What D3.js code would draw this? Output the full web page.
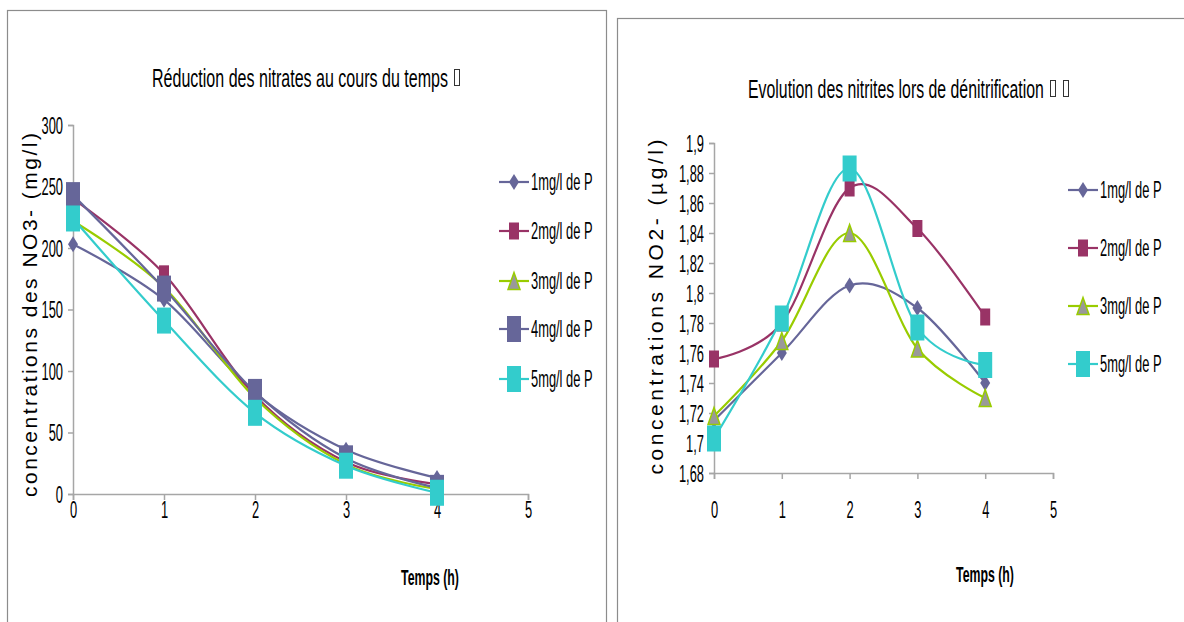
<!DOCTYPE html>
<html>
<head>
<meta charset="utf-8">
<script src="https://cdn.jsdelivr.net/npm/d3@7"></script>
<style>
  html, body { margin: 0; padding: 0; background: #fff; overflow: hidden; }
  svg { display: block; }
  text { font-family: 'Liberation Sans', Arial, sans-serif; fill: #000; }
</style>
</head>
<body>
<div id="chart"></div>
<script>
// data
const hours = [0, 1, 2, 3, 4];
const seriesNames = ["1mg/l de P", "2mg/l de P", "3mg/l de P", "4mg/l de P", "5mg/l de P"];

const no3_1 = [203, 158, 82, 36, 13];
const no3_2 = [240, 179, 80, 26, 8];
const no3_3 = [222, 168, 78, 24, 4];
const no3_4 = [243, 167, 83, 29, 5];
const no3_5 = [224, 141, 66, 23, 1];

const no2_1 = [1.715, 1.760, 1.805, 1.790, 1.740];
const no2_2 = [1.756, 1.780, 1.870, 1.843, 1.784];
const no2_3 = [1.718, 1.768, 1.840, 1.763, 1.730];
const no2_5 = [1.703, 1.783, 1.883, 1.777, 1.752];

const no3Ticks = [0, 50, 100, 150, 200, 250, 300];
const no2Ticks = [1.68, 1.70, 1.72, 1.74, 1.76, 1.78, 1.80, 1.82, 1.84, 1.86, 1.88, 1.90];
const xTicks = [0, 1, 2, 3, 4, 5];

// marker look for each series
const styles = [
  { color: "#666699", shape: "diamond", fill: "#666699", w: 10, h: 16 },
  { color: "#993366", shape: "square", fill: "#993366", w: 10, h: 17 },
  { color: "#99CC00", shape: "triangle", fill: "#999999", w: 12, h: 17 },
  { color: "#666699", shape: "square", fill: "#666699", w: 14, h: 26 },
  { color: "#33CCCC", shape: "square", fill: "#33CCCC", w: 14, h: 26 }
];

const SX = 0.56; // the picture's text is squeezed sideways
const FS = 23;

const svg = d3.select("#chart").append("svg")
  .attr("width", 1184)
  .attr("height", 622);

// frames
svg.append("rect").attr("x", 7.5).attr("y", 10.5).attr("width", 599).attr("height", 640)
  .attr("fill", "none").attr("stroke", "#8c8c8c").attr("stroke-width", 1.2);
svg.append("rect").attr("x", 617.5).attr("y", 18.5).attr("width", 600).attr("height", 640)
  .attr("fill", "none").attr("stroke", "#8c8c8c").attr("stroke-width", 1.2);

// squeezed text at x,y
function label(g, x, y, str, size, anchor, bold) {
  return g.append("text")
    .attr("transform", `translate(${x},${y}) scale(${SX},1)`)
    .attr("text-anchor", anchor || "start")
    .attr("dy", "0.35em")
    .attr("font-size", size)
    .attr("font-weight", bold ? "bold" : null)
    .text(str);
}

function marker(g, st, x, y) {
  const w = st.w, h = st.h;
  if (st.shape === "square") {
    g.append("rect").attr("x", x - w / 2).attr("y", y - h / 2)
      .attr("width", w).attr("height", h).attr("fill", st.fill);
  } else if (st.shape === "diamond") {
    g.append("path")
      .attr("d", `M${x},${y - h / 2}L${x + w / 2},${y}L${x},${y + h / 2}L${x - w / 2},${y}Z`)
      .attr("fill", st.fill);
  } else {
    g.append("path")
      .attr("d", `M${x},${y - h / 2}L${x + w / 2},${y + h / 2}L${x - w / 2},${y + h / 2}Z`)
      .attr("fill", st.fill).attr("stroke", st.color).attr("stroke-width", 1.5);
  }
}

function drawChart(cfg) {
  const g = svg.append("g");
  const x = d3.scaleLinear().domain([0, 5]).range([cfg.left, cfg.right]);
  const y = d3.scaleLinear().domain(cfg.yDomain).range([cfg.bottom, cfg.top]);

  // title squeezed to its width, then the little missing-glyph boxes after it
  const title = g.append("text")
    .attr("dy", "0.35em").attr("font-size", 25)
    .text(cfg.title);
  const natural = title.node().getComputedTextLength();
  title.attr("transform", `translate(${cfg.titleX},${cfg.titleY}) scale(${cfg.titleLen / natural},1)`);
  cfg.boxes.forEach(bx => {
    g.append("rect").attr("x", bx + 0.5).attr("y", cfg.titleY - 8.5)
      .attr("width", 5).attr("height", 16)
      .attr("fill", "none").attr("stroke", "#333").attr("stroke-width", 1);
  });

  // axes
  const yAxis = g.append("g").attr("transform", `translate(${cfg.left},0)`)
    .call(d3.axisLeft(y).tickValues(cfg.yTicks).tickSize(5).tickFormat(cfg.yFormat));
  const xAxis = g.append("g").attr("transform", `translate(0,${cfg.bottom})`)
    .call(d3.axisBottom(x).tickValues(xTicks).tickSize(6).tickFormat(d3.format("d")));
  [yAxis, xAxis].forEach(a => {
    a.select(".domain").attr("stroke", "#a6a6a6").attr("stroke-width", 1.5);
    a.selectAll(".tick line").attr("stroke", "#a6a6a6").attr("stroke-width", 1.5);
    a.selectAll("text").attr("font-size", FS)
      .style("font-family", "'Liberation Sans', Arial, sans-serif")
      .attr("fill", "#000");
  });
  yAxis.selectAll("text").attr("x", 0).attr("dy", "0.35em")
    .attr("transform", `translate(-10,0) scale(${SX},1)`);
  xAxis.selectAll("text").attr("y", 0).attr("dy", "0.35em")
    .attr("transform", `translate(0,${cfg.xLabelY - cfg.bottom}) scale(${SX},1)`);

  // axis titles
  label(g, cfg.xTitleX, cfg.xTitleY, "Temps (h)", 22, "middle", true);
  g.append("text")
    .attr("transform", `translate(${cfg.yTitleX},${cfg.yTitleY}) rotate(-90)`)
    .attr("text-anchor", "middle").attr("dy", "0.35em")
    .attr("font-size", 21)
    .attr("textLength", cfg.yTitleLen).attr("lengthAdjust", "spacing")
    .text(cfg.yTitle);

  const line = d3.line()
    .x((d, i) => x(hours[i]))
    .y(d => y(d))
    .curve(d3.curveCardinal.tension(0));

  cfg.series.forEach(s => {
    g.append("path").datum(s.values)
      .attr("d", line)
      .attr("fill", "none")
      .attr("stroke", styles[s.idx].color)
      .attr("stroke-width", 2.2);
  });
  cfg.series.forEach(s => {
    s.values.forEach((v, i) => marker(g, styles[s.idx], x(hours[i]), y(v)));
  });

  // legend
  const leg = g.append("g");
  cfg.series.forEach((s, k) => {
    const ly = cfg.legY[k];
    const st = styles[s.idx];
    leg.append("line").attr("x1", cfg.legX).attr("x2", cfg.legX + 30)
      .attr("y1", ly).attr("y2", ly)
      .attr("stroke", st.color).attr("stroke-width", 2.2);
    marker(leg, st, cfg.legX + 15, ly);
    label(leg, cfg.legX + 32, ly, seriesNames[s.idx], FS);
  });
}

drawChart({
  left: 73, right: 528, top: 125, bottom: 494,
  yDomain: [0, 300], yTicks: no3Ticks, yFormat: d3.format("d"),
  xLabelY: 510,
  title: "Réduction des nitrates au cours du temps",
  titleX: 152, titleY: 78, titleLen: 296, boxes: [454],
  xTitleX: 430, xTitleY: 577,
  yTitle: "concentrations des NO3- (mg/l)", yTitleX: 30, yTitleY: 315, yTitleLen: 364,
  series: [
    { idx: 0, values: no3_1 },
    { idx: 1, values: no3_2 },
    { idx: 2, values: no3_3 },
    { idx: 3, values: no3_4 },
    { idx: 4, values: no3_5 }
  ],
  legX: 499, legY: [182, 231, 281, 329, 379]
});

drawChart({
  left: 714, right: 1053, top: 143, bottom: 473,
  yDomain: [1.68, 1.9], yTicks: no2Ticks, yFormat: d => d3.format("~r")(+d.toFixed(2)).replace(".", ","),
  xLabelY: 510,
  title: "Evolution des nitrites lors de dénitrification",
  titleX: 748, titleY: 89, titleLen: 296, boxes: [1050, 1063],
  xTitleX: 985, xTitleY: 574,
  yTitle: "concentrations NO2- (µg/l)", yTitleX: 656, yTitleY: 307, yTitleLen: 335,
  series: [
    { idx: 0, values: no2_1 },
    { idx: 1, values: no2_2 },
    { idx: 2, values: no2_3 },
    { idx: 4, values: no2_5 }
  ],
  legX: 1068, legY: [190, 248, 306, 364]
});
</script>
</body>
</html>
